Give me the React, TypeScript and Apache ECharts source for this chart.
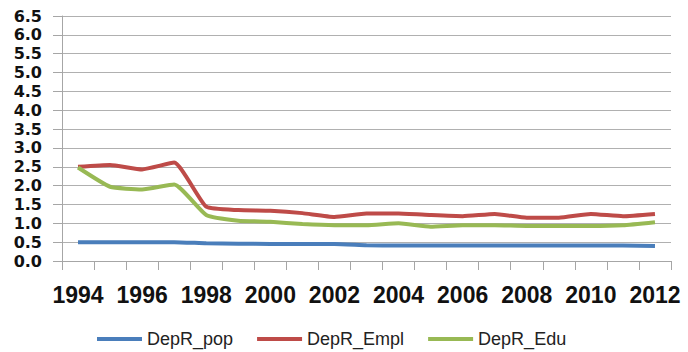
import React, { useEffect, useRef } from "react";
import * as echarts from "echarts";

const years = ["1994","1995","1996","1997","1998","1999","2000","2001","2002","2003","2004","2005","2006","2007","2008","2009","2010","2011","2012"];
const depRPop = [0.50,0.50,0.50,0.50,0.47,0.46,0.45,0.45,0.45,0.42,0.41,0.41,0.41,0.41,0.41,0.41,0.41,0.41,0.40];
const depREmpl = [2.50,2.55,2.43,2.61,1.44,1.35,1.33,1.27,1.17,1.26,1.26,1.22,1.19,1.25,1.15,1.15,1.25,1.19,1.25];
const depREdu = [2.48,1.97,1.90,2.03,1.22,1.07,1.04,0.98,0.95,0.95,1.00,0.91,0.95,0.95,0.93,0.93,0.93,0.95,1.03];
const seriesNames = ["DepR_pop", "DepR_Empl", "DepR_Edu"];
const colors = ["#4a7ebb", "#be4b48", "#98b954"];

export default function App() {
  const ref = useRef<HTMLDivElement>(null);
  useEffect(() => {
    const chart = echarts.init(ref.current!, null, { renderer: "svg" });
    const data = [depRPop, depREmpl, depREdu];
    chart.setOption({
      animation: false,
      backgroundColor: "#ffffff",
      grid: { left: 62, right: 17, top: 16, bottom: 91, containLabel: false },
      legend: {
        left: 92,
        top: 325,
        itemGap: 24,
        itemWidth: 45,
        itemHeight: 4,
        icon: "rect",
        textStyle: { fontFamily: "Liberation Sans", fontSize: 18, color: "#222" },
        data: seriesNames,
      },
      xAxis: {
        type: "category",
        data: years,
        boundaryGap: true,
        axisLine: { lineStyle: { color: "#a6a6a6", width: 1 } },
        axisTick: { show: true, interval: 0, length: 9, lineStyle: { color: "#a6a6a6" } },
        axisLabel: {
          interval: 1,
          margin: 22,
          fontFamily: "Liberation Sans",
          fontWeight: "bold",
          fontSize: 23,
          color: "#111",
        },
        splitLine: { show: false },
      },
      yAxis: {
        type: "value",
        min: 0,
        max: 6.5,
        interval: 0.5,
        axisLine: { show: true, lineStyle: { color: "#a6a6a6", width: 1 } },
        axisTick: { show: true, length: 9, lineStyle: { color: "#a6a6a6" } },
        axisLabel: {
          margin: 20,
          fontFamily: "DejaVu Sans",
          fontWeight: "bold",
          fontSize: 16,
          color: "#111",
          formatter: (v: number) => v.toFixed(1),
        },
        splitLine: { show: true, lineStyle: { color: "#b0b0b0", width: 1 } },
      },
      series: seriesNames.map((name, i) => ({
        name,
        type: "line",
        data: data[i],
        symbol: "none",
        smooth: 0.15,
        lineStyle: { color: colors[i], width: 4 },
        itemStyle: { color: colors[i] },
      })),
    });
    return () => chart.dispose();
  }, []);
  return <div ref={ref} style={{ width: 688, height: 352, position: "absolute", left: 0, top: 0 }} />;
}
